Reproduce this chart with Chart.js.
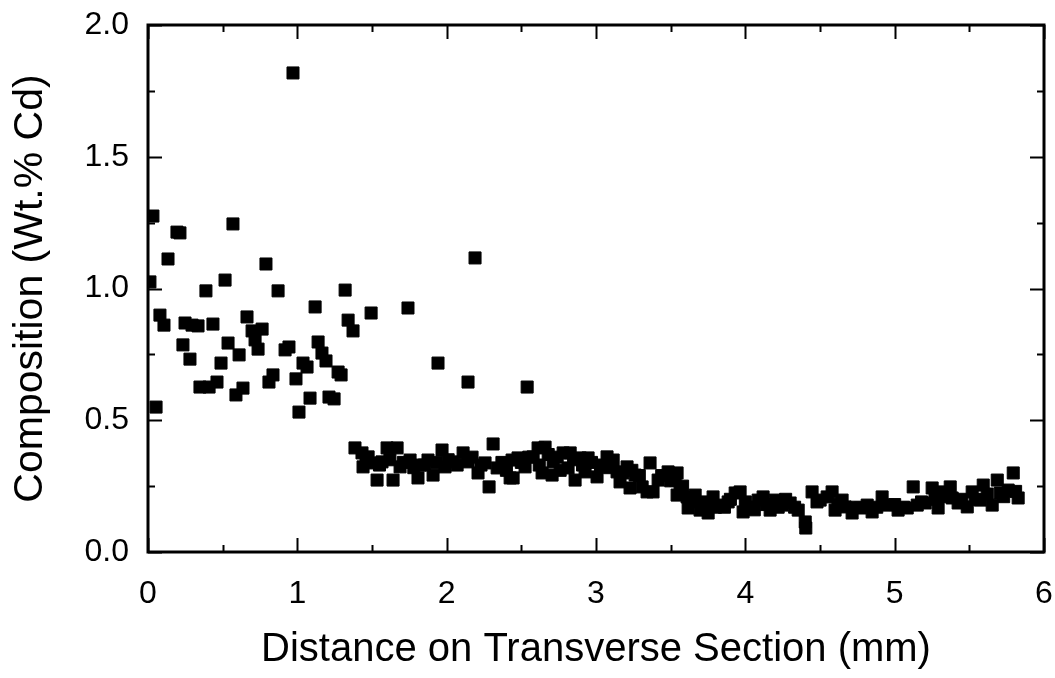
<!DOCTYPE html>
<html>
<head>
<meta charset="utf-8">
<script src="https://cdn.jsdelivr.net/npm/chart.js@4.4.0/dist/chart.umd.min.js"></script>
<style>
  html, body { margin: 0; padding: 0; background: #fff; }
  #wrap { width: 1055px; height: 678px; }
</style>
</head>
<body>
<div id="wrap"><canvas id="chart" width="1055" height="678"></canvas></div>
<script>
// Cd composition across the transverse section
// scattered points near the surface
const surfaceDistance = [
  0.013, 0.033, 0.054, 0.080, 0.107, 0.134, 0.194, 0.214, 0.234, 0.248,
  0.281, 0.295, 0.335, 0.348, 0.388, 0.409, 0.435, 0.462, 0.489, 0.516,
  0.536, 0.569, 0.589, 0.610, 0.636, 0.663, 0.697, 0.717, 0.737, 0.764,
  0.790, 0.810, 0.837, 0.871, 0.918, 0.944, 0.971, 0.991, 1.011, 1.038,
  1.065, 1.085, 1.119, 1.139, 1.165, 1.192, 1.212, 1.246, 1.273, 1.293,
  1.320, 1.340, 1.373, 1.494, 1.741, 1.942, 2.143, 2.190, 2.539
];
const surfaceCd = [
  1.025, 1.275, 0.550, 0.899, 0.861, 1.112, 1.214, 1.211, 0.786, 0.869,
  0.732, 0.861, 0.858, 0.626, 0.991, 0.626, 0.865, 0.645, 0.717, 1.032,
  0.793, 1.245, 0.596, 0.748, 0.622, 0.892, 0.839, 0.805, 0.770, 0.846,
  1.093, 0.645, 0.672, 0.991, 0.767, 0.778, 1.818, 0.657, 0.531, 0.717,
  0.702, 0.584, 0.930, 0.797, 0.755, 0.725, 0.588, 0.581, 0.683, 0.672,
  0.994, 0.880, 0.839, 0.907, 0.926, 0.717, 0.645, 1.116, 0.626
];

// dense band further in (the last rows are points hidden inside the blob)
const bandDistance = [
  1.386, 1.433, 1.440, 1.474, 1.507, 1.534, 1.567, 1.601, 1.641, 1.668,
  1.688, 1.755, 1.808, 1.822, 1.875, 1.909, 1.969, 1.989, 2.036, 2.110,
  2.143, 2.210, 2.257, 2.284, 2.311, 2.338, 2.425, 2.438, 2.445, 2.478,
  2.525, 2.579, 2.612, 2.639, 2.659, 2.706, 2.713, 2.780, 2.813, 2.827,
  2.860, 2.894, 2.927, 2.947, 3.007, 3.074, 3.115, 3.141, 3.161, 3.208,
  3.228, 3.262, 3.309, 3.342, 3.362, 3.382, 3.416, 3.483, 3.530, 3.543,
  3.543, 3.563, 3.610, 3.617, 3.664, 3.697, 3.751, 3.784, 3.831, 3.885,
  3.932, 3.965, 3.985, 4.032, 4.086, 4.119, 4.166, 4.200, 4.246, 4.300,
  4.354, 4.401, 4.405, 4.447, 4.501, 4.548, 4.581, 4.601, 4.648, 4.668,
  4.715, 4.769, 4.816, 4.849, 4.916, 4.956, 5.023, 5.084, 5.124, 5.151,
  5.204, 5.251, 5.291, 5.318, 5.372, 5.385, 5.425, 5.486, 5.519, 5.573,
  5.593, 5.653, 5.687, 5.707, 5.760, 5.794, 5.827,
  1.46, 1.55, 1.62, 1.71, 1.78, 1.85, 1.93, 2.01, 2.07, 2.17,
  2.23, 2.37, 2.40, 2.50, 2.55, 2.62, 2.68, 2.74, 2.76, 2.85,
  2.91, 2.97, 3.03, 3.09, 3.18, 3.24, 3.29, 3.44, 3.50, 3.58,
  3.65, 3.72, 3.80, 3.86, 3.90, 4.00, 4.06, 4.14, 4.22, 4.27,
  4.33, 4.48, 4.62, 4.74, 4.88, 5.00, 5.06, 5.18, 5.27, 5.35,
  5.45, 5.54, 5.62, 5.73, 5.81
];
const bandCd = [
  0.395, 0.376, 0.323, 0.361, 0.338, 0.273, 0.342, 0.395, 0.273, 0.395,
  0.323, 0.349, 0.281, 0.330, 0.349, 0.292, 0.387, 0.323, 0.342, 0.376,
  0.342, 0.300, 0.338, 0.247, 0.410, 0.319, 0.281, 0.349, 0.281, 0.357,
  0.323, 0.361, 0.395, 0.300, 0.398, 0.292, 0.342, 0.376, 0.319, 0.376,
  0.273, 0.357, 0.304, 0.357, 0.285, 0.361, 0.349, 0.304, 0.266, 0.323,
  0.243, 0.292, 0.247, 0.228, 0.338, 0.228, 0.273, 0.304, 0.273, 0.216,
  0.300, 0.235, 0.209, 0.167, 0.216, 0.159, 0.148, 0.209, 0.178, 0.190,
  0.224, 0.228, 0.152, 0.171, 0.197, 0.209, 0.159, 0.197, 0.178, 0.186,
  0.159, 0.114, 0.091, 0.228, 0.197, 0.209, 0.228, 0.159, 0.197, 0.171,
  0.148, 0.167, 0.178, 0.152, 0.209, 0.178, 0.159, 0.167, 0.247, 0.178,
  0.186, 0.243, 0.167, 0.228, 0.247, 0.205, 0.186, 0.171, 0.228, 0.197,
  0.254, 0.178, 0.273, 0.224, 0.235, 0.300, 0.205,
  0.35, 0.33, 0.35, 0.34, 0.32, 0.33, 0.34, 0.35, 0.33, 0.36,
  0.33, 0.34, 0.31, 0.34, 0.36, 0.33, 0.37, 0.36, 0.31, 0.35,
  0.33, 0.34, 0.33, 0.32, 0.30, 0.31, 0.29, 0.29, 0.27, 0.25,
  0.19, 0.19, 0.17, 0.17, 0.20, 0.19, 0.16, 0.18, 0.17, 0.20,
  0.17, 0.19, 0.18, 0.17, 0.17, 0.18, 0.17, 0.19, 0.20, 0.21,
  0.20, 0.20, 0.22, 0.21, 0.23
];

// axis ticks (major labelled, minor unlabelled)
const xMajorTicks = [0, 1, 2, 3, 4, 5, 6];
const xMinorTicks = [0.5, 1.5, 2.5, 3.5, 4.5, 5.5];
const yMajorTicks = [0, 0.5, 1.0, 1.5, 2.0];
const yMinorTicks = [0.25, 0.75, 1.25, 1.75];

const xTitle = 'Distance on Transverse Section (mm)';
const yTitle = 'Composition (Wt.% Cd)';

const toPoints = (xs, ys) => xs.map((x, i) => ({ x: x, y: ys[i] }));

// Boxed frame with inward ticks on all four sides
const frameTicks = {
  id: 'frameTicks',
  afterDraw(chart) {
    const ctx = chart.ctx;
    const a = chart.chartArea;
    const sx = chart.scales.x;
    const sy = chart.scales.y;
    ctx.save();
    ctx.strokeStyle = '#000';
    ctx.lineWidth = 2;
    ctx.beginPath();
    const xMarks = (vals, len) => vals.forEach(v => {
      const px = Math.round(sx.getPixelForValue(v)) + 0.5;
      ctx.moveTo(px, a.bottom); ctx.lineTo(px, a.bottom - len);
      ctx.moveTo(px, a.top); ctx.lineTo(px, a.top + len);
    });
    const yMarks = (vals, len) => vals.forEach(v => {
      const py = Math.round(sy.getPixelForValue(v)) + 0.5;
      ctx.moveTo(a.left, py); ctx.lineTo(a.left + len, py);
      ctx.moveTo(a.right, py); ctx.lineTo(a.right - len, py);
    });
    xMarks(xMajorTicks, 14);
    xMarks(xMinorTicks, 7);
    yMarks(yMajorTicks, 14);
    yMarks(yMinorTicks, 7);
    ctx.stroke();
    ctx.lineWidth = 3;
    ctx.strokeRect(a.left, a.top, a.right - a.left, a.bottom - a.top);
    ctx.restore();
  }
};

const markerStyle = {
  pointStyle: 'rect',
  pointRadius: 8.5,
  pointHoverRadius: 8.5,
  pointBackgroundColor: '#000',
  pointBorderColor: '#000',
  pointBorderWidth: 1,
  showLine: false
};

new Chart(document.getElementById('chart'), {
  type: 'scatter',
  data: {
    datasets: [
      Object.assign({ label: 'surface', data: toPoints(surfaceDistance, surfaceCd) }, markerStyle),
      Object.assign({ label: 'band', data: toPoints(bandDistance, bandCd) }, markerStyle)
    ]
  },
  options: {
    responsive: false,
    animation: false,
    events: [],
    layout: { padding: { top: 25, right: 11, left: 0, bottom: 0 } },
    plugins: {
      legend: { display: false },
      tooltip: { enabled: false }
    },
    scales: {
      x: {
        type: 'linear',
        min: 0,
        max: 6,
        afterBuildTicks: (scale) => { scale.ticks = xMajorTicks.map(v => ({ value: v })); },
        afterFit: (scale) => {
          scale.height = 126;
          scale.paddingLeft = 0;
          scale.paddingRight = 0;
        },
        grid: { display: false, drawTicks: false },
        border: { display: false },
        ticks: {
          color: '#000',
          padding: 23,
          font: { family: 'Liberation Sans, Arial, sans-serif', size: 32 },
          callback: (v) => String(v)
        },
        title: {
          display: true,
          text: xTitle,
          color: '#000',
          padding: { top: 0, bottom: 4 },
          font: { family: 'Liberation Sans, Arial, sans-serif', size: 40 }
        }
      },
      y: {
        type: 'linear',
        min: 0,
        max: 2,
        afterBuildTicks: (scale) => { scale.ticks = yMajorTicks.map(v => ({ value: v })); },
        afterFit: (scale) => {
          scale.width = 148;
          scale.paddingTop = 0;
          scale.paddingBottom = 0;
        },
        grid: { display: false, drawTicks: false },
        border: { display: false },
        ticks: {
          color: '#000',
          padding: 19,
          font: { family: 'Liberation Sans, Arial, sans-serif', size: 32 },
          callback: (v) => Number(v).toFixed(1)
        },
        title: {
          display: true,
          text: yTitle,
          color: '#000',
          padding: { top: 6, bottom: 0 },
          font: { family: 'Liberation Sans, Arial, sans-serif', size: 41 }
        }
      }
    }
  },
  plugins: [frameTicks]
});
</script>
</body>
</html>
